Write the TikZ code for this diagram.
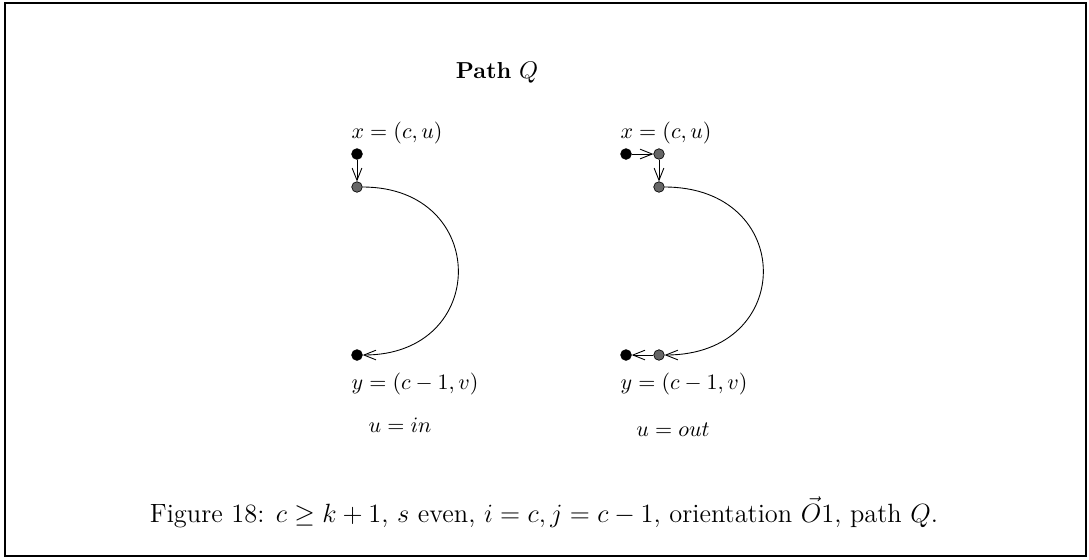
\documentclass[tikz,border=0pt]{standalone}
\usetikzlibrary{arrows.meta}
\begin{document}
\begin{tikzpicture}[x=0.4545pt,y=-0.4545pt,
  bdot/.style={circle,fill=black,draw=black,inner sep=0pt,minimum size=4.8pt},
  gdot/.style={circle,fill=black!60,draw=black,line width=0.3pt,inner sep=0pt,minimum size=4.8pt},
  arr/.style={-{Straight Barb[length=5.5pt,width=4.4pt,line width=0.4pt]},line width=0.4pt},
  lbl/.style={inner sep=0pt,font=\normalsize}]
\useasboundingbox (0,0) rectangle (1089,559);
\draw[line width=0.9pt] (5,3) rectangle (1086,556);
\node[inner sep=0pt,font=\fontsize{10.5}{12}\selectfont] (title) at (497,73) {\textbf{Path} $Q$};
% left
\node[bdot] (lx) at (357,154) {};
\node[gdot] (lg1) at (357,187) {};
\node[bdot] (ly) at (357,355) {};
\draw[arr] (lx) -- (lg1);
\draw[arr] (lg1) .. controls (490,187) and (490,355) .. (ly);
\node[lbl] (lxl) at (397,133) {$x=(c,u)$};
\node[lbl] (lyl) at (415,384) {$y=(c-1,v)$};
\node[lbl] (lul) at (400,425) {$u=in$};
% right
\node[bdot] (rx) at (626,154) {};
\node[gdot] (rg0) at (659,154) {};
\node[gdot] (rg1) at (659,187) {};
\node[gdot] (rg2) at (659,355) {};
\node[bdot] (ry) at (626,355) {};
\draw[arr] (rx) -- (rg0);
\draw[arr] (rg0) -- (rg1);
\draw[arr] (rg1) .. controls (796,187) and (796,355) .. (rg2);
\draw[arr] (rg2) -- (ry);
\node[lbl] (rxl) at (666,133) {$x=(c,u)$};
\node[lbl] (ryl) at (684,384) {$y=(c-1,v)$};
\node[lbl] (rul) at (673,430) {$u=out$};
% caption
\node[inner sep=0pt,font=\large] (cap) at (544,512) {Figure 18: $c\geq k+1$, $s$ even, $i=c, j=c-1$, orientation $\vec{O}1$, path $Q$.};
\end{tikzpicture}
\end{document}
